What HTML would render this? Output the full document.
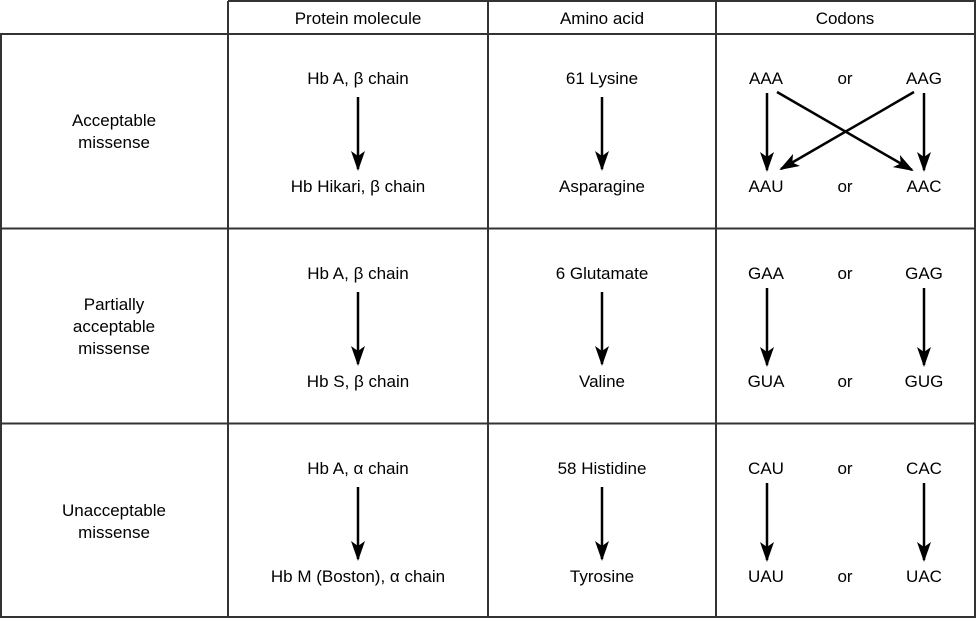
<!DOCTYPE html>
<html><head><meta charset="utf-8"><style>html,body{margin:0;padding:0;background:#fff}svg{display:block}</style></head>
<body>
<svg width="976" height="619" xmlns="http://www.w3.org/2000/svg" font-family="Liberation Sans, Arial, sans-serif" font-size="17" text-anchor="middle" fill="#000">
<defs>
<marker id="h" viewBox="0 0 20 14" markerWidth="20" markerHeight="14" refX="18" refY="7" orient="auto" markerUnits="userSpaceOnUse"><path d="M0,0 L20,7 L0,14 L5,7 Z" fill="#000"/></marker></defs>
<g stroke="#333" stroke-width="2" fill="none">
<path d="M228,1 H975 V617 H1 V34 H975 M228,1 V617 M488,1 V617 M716,1 V617 M1,228.5 H975 M1,423.5 H975"/>
</g>
<g>
<text x="358" y="24">Protein molecule</text>
<text x="602" y="24">Amino acid</text>
<text x="845" y="24">Codons</text>
<text x="114" y="126">Acceptable</text><text x="114" y="148">missense</text>
<text x="114" y="310">Partially</text><text x="114" y="332">acceptable</text><text x="114" y="354">missense</text>
<text x="114" y="516">Unacceptable</text><text x="114" y="538">missense</text>
<text x="358" y="84">Hb A, β chain</text><text x="358" y="192">Hb Hikari, β chain</text>
<text x="358" y="279">Hb A, β chain</text><text x="358" y="387">Hb S, β chain</text>
<text x="358" y="474">Hb A, α chain</text><text x="358" y="582">Hb M (Boston), α chain</text>
<text x="602" y="84">61 Lysine</text><text x="602" y="192">Asparagine</text>
<text x="602" y="279">6 Glutamate</text><text x="602" y="387">Valine</text>
<text x="602" y="474">58 Histidine</text><text x="602" y="582">Tyrosine</text>
<text x="766" y="84">AAA</text><text x="845" y="84">or</text><text x="924" y="84">AAG</text>
<text x="766" y="192">AAU</text><text x="845" y="192">or</text><text x="924" y="192">AAC</text>
<text x="766" y="279">GAA</text><text x="845" y="279">or</text><text x="924" y="279">GAG</text>
<text x="766" y="387">GUA</text><text x="845" y="387">or</text><text x="924" y="387">GUG</text>
<text x="766" y="474">CAU</text><text x="845" y="474">or</text><text x="924" y="474">CAC</text>
<text x="766" y="582">UAU</text><text x="845" y="582">or</text><text x="924" y="582">UAC</text>
</g>
<g stroke="#000" stroke-width="2.5" marker-end="url(#h)">
<line x1="358" y1="97" x2="358" y2="169"/><line x1="602" y1="97" x2="602" y2="169"/>
<line x1="767" y1="93" x2="767" y2="170"/><line x1="924" y1="93" x2="924" y2="170"/>
<line x1="777" y1="92" x2="912" y2="170"/><line x1="914" y1="92" x2="781" y2="169"/>
<line x1="358" y1="292" x2="358" y2="364"/><line x1="602" y1="292" x2="602" y2="364"/>
<line x1="767" y1="288" x2="767" y2="365"/><line x1="924" y1="288" x2="924" y2="365"/>
<line x1="358" y1="487" x2="358" y2="559"/><line x1="602" y1="487" x2="602" y2="559"/>
<line x1="767" y1="483" x2="767" y2="560"/><line x1="924" y1="483" x2="924" y2="560"/>
</g>
</svg>
</body></html>
